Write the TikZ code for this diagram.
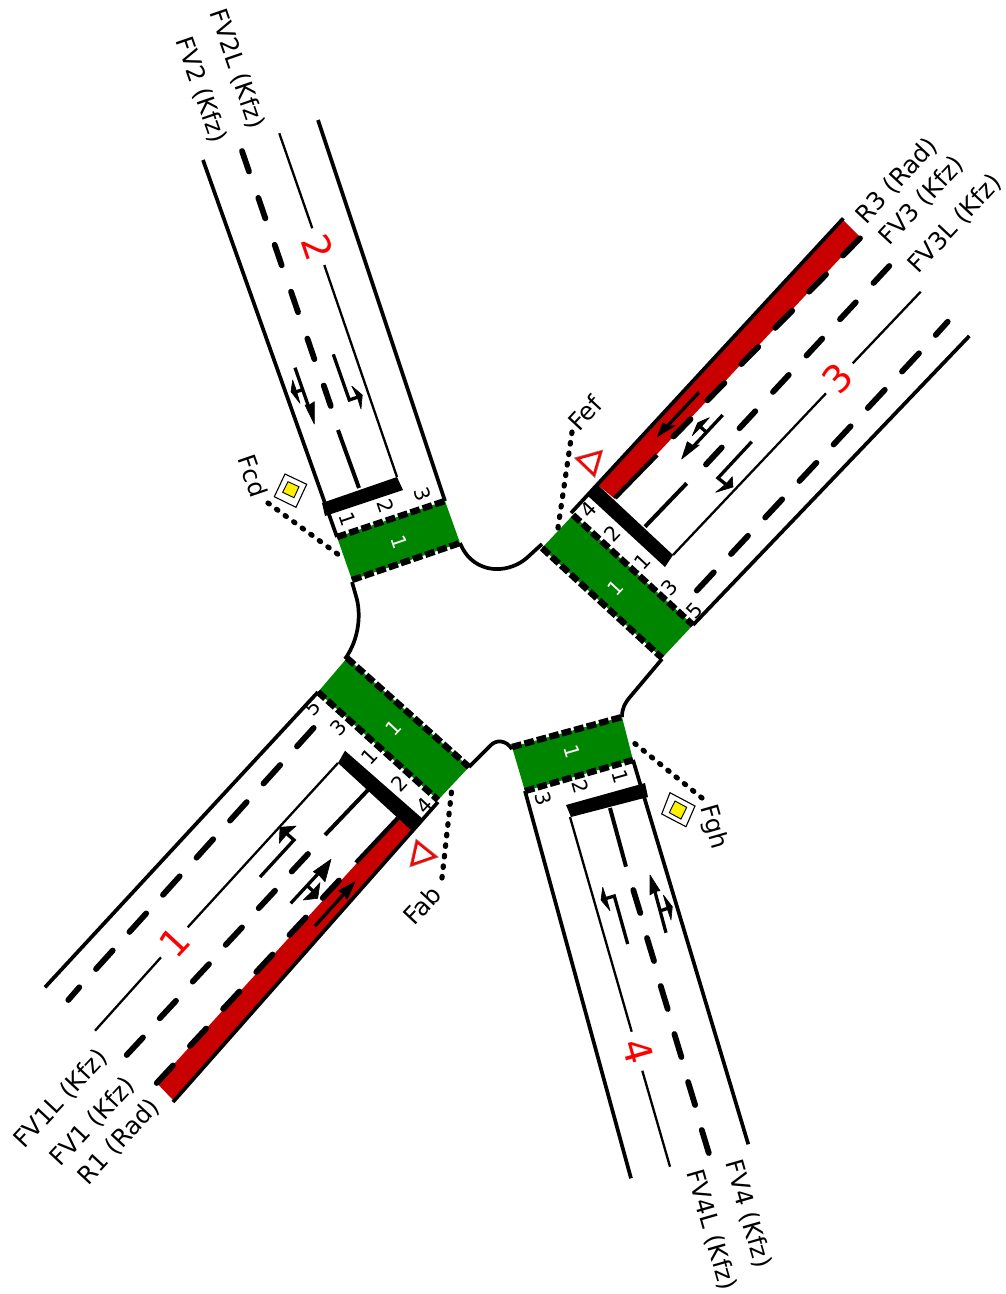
\documentclass[tikz,border=0pt]{standalone}
\usepackage{fontspec}
\setmainfont{DejaVu Sans}
\definecolor{xgreen}{RGB}{0,133,0}
\definecolor{xred}{RGB}{200,0,0}
\tikzset{
  roadedge/.style={line width=3.7pt,line cap=butt,line join=round},
  thinline/.style={line width=2.3pt},
  dashmark/.style={line width=5.8pt,line cap=round},
  solidmark/.style={line width=4pt},
  stem/.style={line width=3.3pt,line join=miter},
  headfill/.style={fill=black,draw=black,line width=.6pt,line join=round},
  stopbar/.style={fill=black,draw=none},
  xing/.style={line width=6.4pt,line cap=butt,dash pattern=on 9.8pt off 3.1pt},
  leader/.style={line width=5.2pt,line cap=round,dash pattern=on 1.6pt off 9pt},
  lab/.style={font=\fontsize{24.5}{24.5}\selectfont,inner sep=0pt},
  num/.style={font=\fontsize{20.5}{20.5}\selectfont,inner sep=0pt},
  wnum/.style={font=\fontsize{20}{20}\selectfont,inner sep=0pt,text=white},
  armnum/.style={font=\fontsize{38}{38}\selectfont,inner sep=0pt,text=red},
  yieldsign/.style={draw=red,fill=white,line width=2.4pt,line join=miter},
  yieldhalo/.style={draw=black!45,line width=4pt,line join=miter},
  prioout/.style={draw=black,fill=white,line width=1.1pt},
  prioin/.style={draw=black,fill=yellow,line width=.9pt},
}
\begin{document}
\begin{tikzpicture}[x=1pt,y=-1pt]
\useasboundingbox (0,0) rectangle (1005,1294);

% red cycle lanes
\fill[xred] (843,220) -- (860,237) -- (615,499) -- (598,485) -- cycle;
\fill[xred] (156.7,1083) -- (173,1100) -- (413,832) -- (398,818) -- cycle;

% crossings
\fill[xgreen] (337,537) -- (445,501) -- (460,543) -- (352,580) -- cycle;
\fill[xgreen] (573,515) -- (693,625) -- (662,658) -- (542,548) -- cycle;
\fill[xgreen] (347,658) -- (469,767) -- (438,800) -- (318,692) -- cycle;
\fill[xgreen] (512,747) -- (622,717) -- (633,760) -- (525,791) -- cycle;
\draw[xing] (337,537) -- (445,501);
\draw[xing] (352,580) -- (460,543);
\draw[xing] (573,515) -- (693,625);
\draw[xing] (542,548) -- (662,658);
\draw[xing] (347,658) -- (469,767);
\draw[xing] (318,692) -- (438,800);
\draw[xing] (512,747) -- (622,717);
\draw[xing] (525,791) -- (633,760);

% kerbs
\draw[roadedge] (203,160) -- (337,537);
\draw[roadedge] (318,120) -- (445,501);
\draw[roadedge] (460,543) .. controls (468,563) and (485,570) .. (500,569) .. controls (512,568) and (522,563) .. (530,555) -- (542,544);
\draw[roadedge] (571,513) -- (843.3,218.3);
\draw[roadedge] (969.3,336) -- (693,625);
\draw[roadedge] (662,659) -- (630,697) .. controls (625,703) and (622,708) .. (622,717);
\draw[roadedge] (633,760) -- (748.3,1144.3);
\draw[roadedge] (631,1178.3) -- (525,791);
\draw[roadedge] (512,749) .. controls (506,740) and (496,739) .. (490,746) -- (469,767);
\draw[roadedge] (438,802) -- (173,1102);
\draw[roadedge] (45,987.3) -- (318,692);
\draw[roadedge] (345,659) .. controls (360,638) and (361,612) .. (356,596) -- (352,582);

% stop bars
\fill[stopbar] (322,503) -- (397,477) -- (403,490) -- (325,516) -- cycle;
\fill[stopbar] (587,495) -- (598,485) -- (673,555) -- (665,567) -- cycle;
\fill[stopbar] (345,750.7) -- (338,763) -- (413,832) -- (424,820) -- cycle;
\fill[stopbar] (566,805) -- (645,783) -- (648,797) -- (571,817) -- cycle;

% lane dividers, arm 2
\draw[thinline] (279.3,133.3) -- (312.3,228.3) (324.3,265) -- (397,477);
\draw[solidmark] (338,430) -- (359,488);
\foreach \k in {0,...,5}
  \draw[dashmark] ({242+13.4*\k*1.22},{151+46.9*\k}) -- ({249+13.4*\k*1.22},{171.5+46.9*\k});

% lane dividers, arm 3
\draw[thinline] (920.7,291.7) -- (852.7,363.3) (826,393.3) -- (673,555);
\draw[dashmark] (947.7,321.7) -- (935.7,335);
\foreach \k in {0,...,6}
  \draw[dashmark] ({919-34.2*\k},{353.3+36.5*\k}) -- ({902-34.2*\k},{371.5+36.5*\k});
\foreach \k in {0,...,5}
  \draw[dashmark] ({889.3-33.5*\k},{266+36.3*\k}) -- ({873.5-33.5*\k},{283+36.3*\k});
\draw[solidmark] (686.7,483.3) -- (645,526.7);
\foreach \k in {0,...,5}
  \draw[dashmark] ({860-33.9*\k},{238.3+36.2*\k}) -- ({843-33.9*\k},{255.5+36.2*\k});
\draw[solidmark,line width=4.4pt] (657,455) -- (615,498);

% lane dividers, arm 1
\draw[thinline] (95,1030.7) -- (161,957.3) (187.7,927.3) -- (338,763);
\draw[dashmark] (68.3,1000) -- (79.3,987.3);
\foreach \k in {0,...,6}
  \draw[dashmark] ({96+33.5*\k},{969-37.1*\k}) -- ({112.7+33.5*\k},{950.5-37.1*\k});
\foreach \k in {0,...,5}
  \draw[dashmark] ({126.7+33*\k},{1055-36.7*\k}) -- ({143+33*\k},{1037.5-36.7*\k});
\draw[solidmark] (325,835) -- (368,790);
\foreach \k in {0,...,5}
  \draw[dashmark] ({156.7+33.2*\k},{1083-37*\k}) -- ({173+33.2*\k},{1065.5-37*\k});
\draw[solidmark,line width=4.4pt] (356,862.7) -- (398,818);

% lane dividers, arm 4
\draw[thinline] (570,817) -- (631.7,1031.7) (642.3,1070.7) -- (670,1166.7);
\draw[solidmark] (610,808) -- (626,866.7);
\foreach \k in {0,...,5}
  \draw[dashmark] ({633.3+13.7*\k},{890+48*\k}) -- ({640.3+13.7*\k},{913+48*\k});

% lane arrows, arm 2
\draw[stem] (295,367.7) -- (310.5,412) (303.3,389.3) -- (295,392.3);
\filldraw[headfill] (314.3,424) -- (305,405) -- (309.5,405) -- (314.3,401.7) -- cycle;
\filldraw[headfill] (291,391.7) -- (292.7,380) -- (296.5,391) -- (300,403.3) -- cycle;
\draw[stem] (333.3,354.3) -- (349.3,400) -- (358,397);
\filldraw[headfill] (362.3,395) -- (351.7,386) -- (357,396.5) -- (361,409) -- cycle;

% lane arrows, arm 3
\draw[stem] (699,392.3) -- (665,428.5);
\filldraw[headfill] (657.3,436.7) -- (662.7,422.7) -- (668,426) -- (675,425.7) -- cycle;
\draw[stem] (722.7,415) -- (690,450) (705.5,431.5) -- (699,425.5);
\filldraw[headfill] (681.7,459) -- (687.3,441.7) -- (693,445.5) -- (699.3,445) -- cycle;
\filldraw[headfill] (697.7,422.7) -- (709.3,417.7) -- (701,427) -- (692.3,435.7) -- cycle;
\draw[stem] (751.7,441.7) -- (718,478) -- (728,486);
\filldraw[headfill] (733,487) -- (732.3,476.7) -- (726,484) -- (715.7,492.3) -- cycle;

% lane arrows, arm 1
\draw[stem] (315,926) -- (347,890.5);
\filldraw[headfill] (355,881.7) -- (338.3,890.7) -- (342.7,893.3) -- (347.3,899.3) -- cycle;
\draw[stem] (290.7,903.3) -- (322,869.5) (308.3,886.7) -- (315,892.7);
\filldraw[headfill] (331,859.3) -- (313.3,871.7) -- (319.5,875.5) -- (325,881.7) -- cycle;
\filldraw[headfill] (317.7,898.3) -- (320,882.7) -- (312,891.5) -- (303.3,900) -- cycle;
\draw[stem] (260,877) -- (294,840) -- (286,833);
\filldraw[headfill] (280,827.3) -- (296,826) -- (287,834) -- (279.3,843.3) -- cycle;

% lane arrows, arm 4
\draw[stem] (666,932.7) -- (654.5,890) (660.7,910.7) -- (667,908.5);
\filldraw[headfill] (650,875) -- (650,895) -- (655,891.5) -- (660,890.7) -- cycle;
\filldraw[headfill] (672.3,906.7) -- (663.3,895) -- (667,908) -- (671,920) -- cycle;
\draw[stem] (627.7,944) -- (614.3,896) -- (606,898.5);
\filldraw[headfill] (601,900) -- (602.7,887.3) -- (606.5,898.5) -- (610,910.7) -- cycle;

% leader lines
\coordinate (fcdA) at (268,503);
\coordinate (fcdB) at (343,558);
\coordinate (fefA) at (572,432);
\coordinate (fefB) at (558,528);
\coordinate (fabA) at (442,878);
\coordinate (fabB) at (452,787);
\coordinate (fghA) at (702,798);
\coordinate (fghB) at (628,738);
\draw[leader] (fcdA) -- (fcdB);
\draw[leader] (fefA) -- (fefB);
\draw[leader] (fabA) -- (fabB);
\draw[leader] (fghA) -- (fghB);

% priority signs
\draw[prioout] (285,474) -- (306.7,484.3) -- (296,507.3) -- (274.3,496.7) -- cycle;
\draw[prioin] (288,481.7) -- (299,486.7) -- (294,497.7) -- (282.7,492.3) -- cycle;
\draw[prioout] (670,792.7) -- (695,806) -- (686,826.7) -- (661.7,814) -- cycle;
\draw[prioin] (675,801) -- (686.7,807.3) -- (681,819) -- (669.3,812.7) -- cycle;

% yield signs
\draw[yieldhalo] (577.5,458.7) -- (600.5,452.3) -- (594,474.5) -- cycle;
\draw[yieldsign] (577.5,458.7) -- (600.5,452.3) -- (594,474.5) -- cycle;
\draw[yieldhalo] (417,842) -- (435,856.5) -- (412,864.5) -- cycle;
\draw[yieldsign] (417,842) -- (435,856.5) -- (412,864.5) -- cycle;

% labels
\node[lab,rotate=-71] (l2L) at (237,69) {FV2L (Kfz)};
\node[lab,rotate=-71] (l2) at (201,90) {FV2 (Kfz)};
\node[lab,rotate=47] (r3) at (897,181) {R3 (Rad)};
\node[lab,rotate=47] (l3) at (922,201) {FV3 (Kfz)};
\node[lab,rotate=47] (l3L) at (955,224) {FV3L (Kfz)};
\node[lab,rotate=47] (l1L) at (61,1099) {FV1L (Kfz)};
\node[lab,rotate=47] (l1) at (93,1122) {FV1 (Kfz)};
\node[lab,rotate=47] (r1) at (119,1142) {R1 (Rad)};
\node[lab,rotate=-74] (l4) at (748,1214) {FV4 (Kfz)};
\node[lab,rotate=-74] (l4L) at (711,1230) {FV4L (Kfz)};
\node[lab,rotate=-71] (fcd) at (253,476) {Fcd};
\node[lab,rotate=47] (fef) at (585,413) {Fef};
\node[lab,rotate=47] (fab) at (422,905) {Fab};
\node[lab,rotate=-74] (fgh) at (713,827) {Fgh};

\node[armnum,rotate=47] (a1) at (175,942) {1};
\node[armnum,rotate=-71] (a2) at (318,247) {2};
\node[armnum,rotate=47] (a3) at (838,378) {3};
\node[armnum,rotate=-74] (a4) at (638,1051) {4};

\node[wnum,rotate=-71] (w2) at (399,542) {1};
\node[wnum,rotate=47] (w3) at (616,588) {1};
\node[wnum,rotate=47] (w1) at (394,728) {1};
\node[wnum,rotate=-74] (w4) at (572,752) {1};

\node[num,rotate=-71] (n21) at (348,519) {1};
\node[num,rotate=-71] (n22) at (386,506) {2};
\node[num,rotate=-71] (n23) at (423,494) {3};
\node[num,rotate=47] (n34) at (588,510) {4};
\node[num,rotate=47] (n32) at (612,534) {2};
\node[num,rotate=47] (n31) at (642,562) {1};
\node[num,rotate=47] (n33) at (669,588) {3};
\node[num,rotate=47] (n35) at (695,611) {5};
\node[num,rotate=47] (n15) at (313,708) {5};
\node[num,rotate=47] (n13) at (338,728) {3};
\node[num,rotate=47] (n11) at (369,757) {1};
\node[num,rotate=47] (n12) at (399,784) {2};
\node[num,rotate=47] (n14) at (424,806) {4};
\node[num,rotate=-74] (n41) at (620,777) {1};
\node[num,rotate=-74] (n42) at (581,787) {2};
\node[num,rotate=-74] (n43) at (543,799) {3};
\end{tikzpicture}
\end{document}
